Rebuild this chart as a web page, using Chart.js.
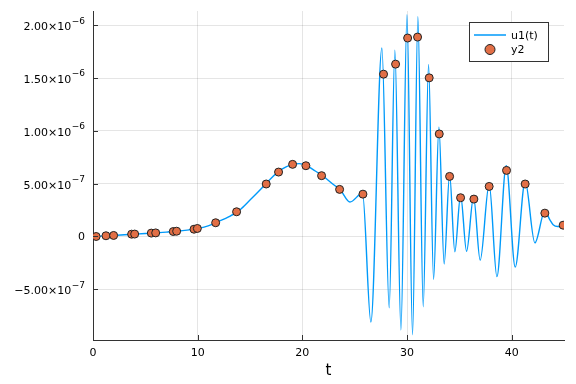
<!DOCTYPE html>
<html><head><meta charset="utf-8">
<script src="https://cdn.jsdelivr.net/npm/chart.js@4/dist/chart.umd.min.js"></script>
<style>html,body{margin:0;padding:0;background:#fff}#wrap{width:576px;height:384px}</style>
</head><body><div id="wrap"><canvas id="c" width="576" height="384"></canvas></div>
<script>
// line u1(t)
const lineT = [0,1,2,3,4,5,6,7,8,9,10,11,12,13,14,15,16,17,18,19,19.7,20.4,21,22,23,23.6,24.55,25.75,26.55,27.6,28.3,28.84,29.42,30.0,30.53,31.04,31.55,32.06,32.54,33.05,33.55,34.07,34.57,35.12,35.69,36.36,36.99,37.85,38.59,39.48,40.34,41.29,42.22,43.17,43.65,43.96,44.4,44.7,45];
const lineU = [0,0.06e-7,0.1e-7,0.16e-7,0.22e-7,0.28e-7,0.34e-7,0.41e-7,0.49e-7,0.6e-7,0.76e-7,1.0e-7,1.42e-7,1.88e-7,2.5e-7,3.45e-7,4.45e-7,5.5e-7,6.35e-7,6.8e-7,6.9e-7,6.72e-7,6.35e-7,5.7e-7,4.9e-7,4.45e-7,3.26e-7,4.1e-7,-8.1e-7,17.85e-7,-6.75e-7,17.65e-7,-8.85e-7,21.0e-7,-9.3e-7,20.8e-7,-6.65e-7,16.3e-7,-4.05e-7,10.35e-7,-2.6e-7,5.9e-7,-1.45e-7,3.9e-7,-1.4e-7,3.75e-7,-2.25e-7,4.95e-7,-3.8e-7,6.7e-7,-2.9e-7,5.2e-7,-0.6e-7,2.4e-7,1.58e-7,1.12e-7,0.95e-7,0.97e-7,1.07e-7];
// scatter y2
const ptT = [0.3,1.24,1.97,3.69,3.98,5.57,5.99,7.67,7.99,9.65,9.97,11.72,13.72,16.55,17.73,19.07,20.34,21.84,23.56,25.79,27.76,28.91,30.06,31.01,32.12,33.08,34.07,35.12,36.39,37.85,39.51,41.29,43.17,44.92];
const ptY = [0,0.07e-7,0.1e-7,0.22e-7,0.23e-7,0.32e-7,0.34e-7,0.47e-7,0.5e-7,0.69e-7,0.76e-7,1.3e-7,2.34e-7,4.97e-7,6.1e-7,6.83e-7,6.7e-7,5.76e-7,4.46e-7,4.01e-7,15.37e-7,16.32e-7,18.79e-7,18.88e-7,15.02e-7,9.71e-7,5.69e-7,3.67e-7,3.54e-7,4.74e-7,6.26e-7,4.97e-7,2.21e-7,1.07e-7];
const xTicks = [0,10,20,30,40];
const yTicks = [-5e-7,0,5e-7,1e-6,1.5e-6,2e-6];
// tick label mantissa and exponent parts
const yTickBase = ["\u22125.00\u00d710","0","5.00\u00d710","1.00\u00d710","1.50\u00d710","2.00\u00d710"];
const yTickExp = ["\u22127","","\u22127","\u22126","\u22126","\u22126"];
const seriesNames = ["u1(t)","y2"];

const BLUE = '#009AFA', ORANGE = '#E26F46', AX = '#333333';
const FONT = 'DejaVu Sans';

const extras = {
  id: 'extras',
  afterDraw(chart) {
    const ctx = chart.ctx, a = chart.chartArea;
    const xs = chart.scales.x, ys = chart.scales.y;
    ctx.save();
    ctx.strokeStyle = AX; ctx.lineWidth = 1;
    ctx.beginPath();
    xTicks.forEach(v => { const p = Math.round(xs.getPixelForValue(v)) + 0.5; ctx.moveTo(p, a.bottom); ctx.lineTo(p, a.bottom - 5); });
    yTicks.forEach(v => { const p = Math.round(ys.getPixelForValue(v)) + 0.5; ctx.moveTo(a.left, p); ctx.lineTo(a.left + 5, p); });
    ctx.stroke();
    // y tick labels with superscript exponents
    ctx.fillStyle = '#000'; ctx.textBaseline = 'middle'; ctx.textAlign = 'right';
    yTicks.forEach((v, i) => {
      const p = ys.getPixelForValue(v);
      let right = a.left - 8;
      if (yTickExp[i]) {
        ctx.font = '9px "' + FONT + '"';
        ctx.fillText(yTickExp[i], right, p - 4);
        right -= ctx.measureText(yTickExp[i]).width + 0.5;
        ctx.font = '11px "' + FONT + '"';
        ctx.fillText(yTickBase[i], right, p + 2);
      } else {
        ctx.font = '11px "' + FONT + '"';
        ctx.fillText(yTickBase[i], right, p + 1);
      }
    });
    // legend
    const lx = 469.5, ly = 22.5, lw = 79, lh = 39;
    ctx.fillStyle = '#fff'; ctx.fillRect(lx, ly, lw, lh);
    ctx.strokeStyle = AX; ctx.strokeRect(lx, ly, lw, lh);
    ctx.strokeStyle = BLUE; ctx.lineWidth = 1.5;
    ctx.beginPath(); ctx.moveTo(474, 35); ctx.lineTo(506, 35); ctx.stroke();
    ctx.fillStyle = ORANGE; ctx.strokeStyle = '#222'; ctx.lineWidth = 1;
    ctx.beginPath(); ctx.arc(490, 49.5, 5, 0, Math.PI * 2); ctx.fill(); ctx.stroke();
    ctx.fillStyle = '#000'; ctx.font = '11px "' + FONT + '"'; ctx.textBaseline = 'middle'; ctx.textAlign = 'left';
    ctx.fillText(seriesNames[0], 511, 36);
    ctx.fillText(seriesNames[1], 511, 50);
    ctx.restore();
  }
};

new Chart(document.getElementById('c'), {
  type: 'line',
  data: {
    datasets: [
      {
        label: seriesNames[0], order: 1,
        data: lineT.map((t, i) => ({x: t, y: lineU[i]})),
        borderColor: BLUE, borderWidth: 1.4, pointRadius: 0, fill: false,
        cubicInterpolationMode: 'monotone'
      },
      {
        label: seriesNames[1], order: 0, type: 'scatter',
        data: ptT.map((t, i) => ({x: t, y: ptY[i]})),
        backgroundColor: ORANGE, borderColor: '#222', borderWidth: 1, pointRadius: 4, showLine: false
      }
    ]
  },
  options: {
    responsive: false, animation: false, devicePixelRatio: 1,
    layout: {padding: {top: 11, right: 12, left: 0, bottom: 0}},
    plugins: {legend: {display: false}, tooltip: {enabled: false}},
    scales: {
      x: {
        type: 'linear', min: 0, max: 45,
        afterBuildTicks: s => { s.ticks = xTicks.map(v => ({value: v})); },
        afterFit: s => { s.height = 44; },
        grid: {color: 'rgba(0,0,0,0.1)', drawTicks: false},
        border: {color: AX, width: 1},
        ticks: {padding: 7, color: '#000', font: {family: FONT, size: 11}, maxRotation: 0, callback: v => String(v)},
        title: {display: true, text: 't', color: '#000', font: {family: FONT, size: 15}, padding: {top: 0, bottom: 4}}
      },
      y: {
        type: 'linear', min: -9.8e-7, max: 2.135e-6,
        afterBuildTicks: s => { s.ticks = yTicks.map(v => ({value: v})); },
        afterFit: s => { s.width = 93; },
        grid: {color: 'rgba(0,0,0,0.1)', drawTicks: false},
        border: {color: AX, width: 1},
        ticks: {display: false}
      }
    }
  },
  plugins: [extras]
});
</script>
</body></html>
